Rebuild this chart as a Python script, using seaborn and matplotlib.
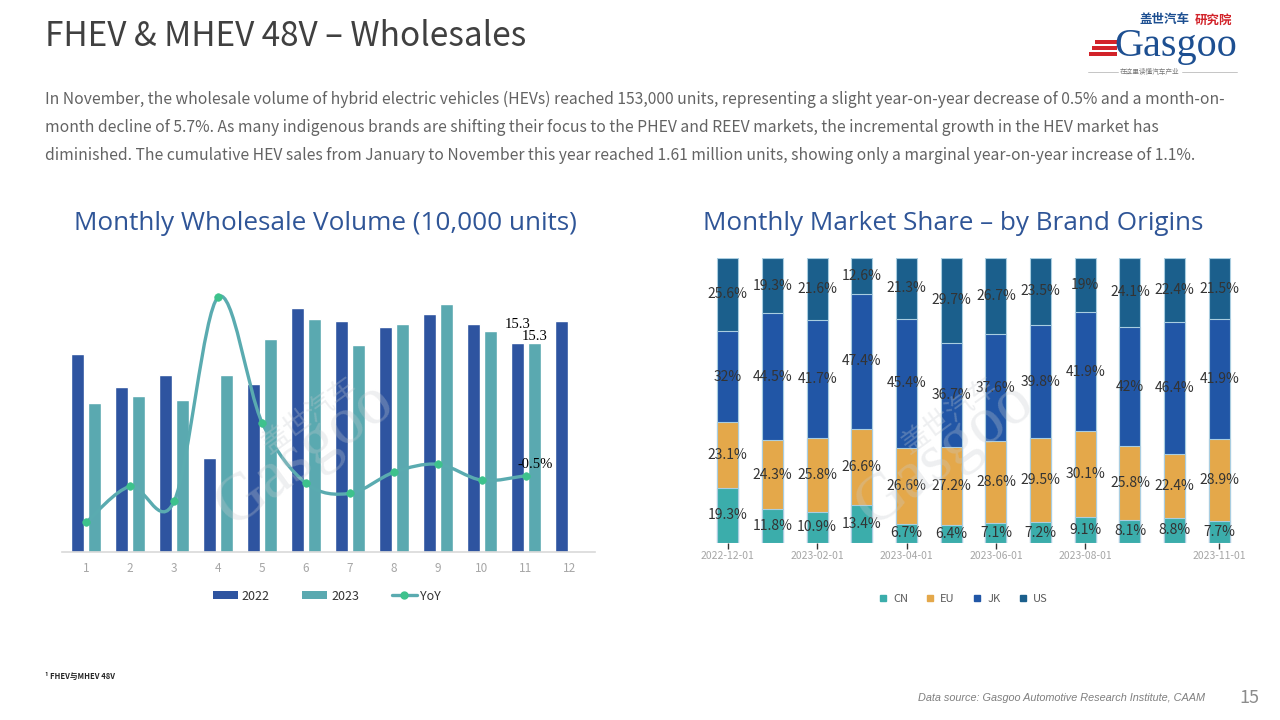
import numpy as np
import pandas as pd
import matplotlib
matplotlib.use("Agg")
import matplotlib.pyplot as plt
from matplotlib.path import Path
from matplotlib.patches import PathPatch, Patch, Rectangle
from matplotlib.lines import Line2D
import seaborn as sns

# ---------------- data ----------------
months = [str(i) for i in range(1, 13)]
vol_2022 = [14.5, 12.1, 13.0, 6.9, 12.3, 17.9, 16.9, 16.5, 17.4, 16.7, 15.3, 16.9]
vol_2023 = [10.9, 11.4, 11.1, 13.0, 15.6, 17.1, 15.2, 16.7, 18.2, 16.2, 15.3]
yoy_pct = [-23.9, -5.9, -13.4, 89.0, 26.1, -4.3, -9.4, 1.2, 5.2, -2.8, -0.5]

share_months = ["2022-12-01", "2023-01-01", "2023-02-01", "2023-03-01", "2023-04-01",
                "2023-05-01", "2023-06-01", "2023-07-01", "2023-08-01", "2023-09-01",
                "2023-10-01", "2023-11-01"]
share_cn = [19.3, 11.8, 10.9, 13.4, 6.7, 6.4, 7.1, 7.2, 9.1, 8.1, 8.8, 7.7]
share_eu = [23.1, 24.3, 25.8, 26.6, 26.6, 27.2, 28.6, 29.5, 30.1, 25.8, 22.4, 28.9]
share_jk = [32.0, 44.5, 41.7, 47.4, 45.4, 36.7, 37.6, 39.8, 41.9, 42.0, 46.4, 41.9]
share_us = [25.6, 19.3, 21.6, 12.6, 21.3, 29.7, 26.7, 23.5, 19.0, 24.1, 22.4, 21.5]
share_tick_idx = [0, 2, 4, 6, 8, 11]
origins = ["CN", "EU", "JK", "US"]

# ---------------- style ----------------
C22 = "#2e54a0"
C23 = "#5aa9b0"
CLINE = "#5aabb0"
CMARK = "#3dc28c"
ORIGIN_COLORS = {"CN": "#3badab", "EU": "#e4a84a", "JK": "#2156a6", "US": "#1b5f8c"}

sns.set_theme(style="white")
plt.rcParams["font.family"] = ["Noto Sans CJK SC", "DejaVu Sans"]

W, H = 1280, 720
fig = plt.figure(figsize=(12.8, 7.2), dpi=100)
fig.patch.set_facecolor("white")


def fx(px):
    return px / W


def fy(py):
    return 1 - py / H


# ---------------- left chart ----------------
ax = fig.add_axes([fx(62), fy(552), (595 - 62) / W, (552 - 279) / H])
df_vol = pd.DataFrame({
    "month": months + months[:len(vol_2023)],
    "volume": vol_2022 + vol_2023,
    "year": ["2022"] * len(vol_2022) + ["2023"] * len(vol_2023),
})
sns.barplot(data=df_vol, x="month", y="volume", hue="year", order=months,
            hue_order=["2022", "2023"], palette=[C22, C23], width=0.76, gap=0.21,
            errorbar=None, saturation=1, legend=False, ax=ax)
ax.set_ylim(0, 20)
ax.set_yticks([])
ax.set_xlabel("")
ax.set_ylabel("")
for s in ["left", "top", "right"]:
    ax.spines[s].set_visible(False)
ax.spines["bottom"].set_color("#d9d9d9")
ax.spines["bottom"].set_linewidth(1.2)
ax.tick_params(axis="x", length=0, pad=7, labelsize=8.5, labelcolor="#a6a6a6")

ax2 = ax.twinx()
xs = np.arange(len(yoy_pct))
pts = np.column_stack([xs, yoy_pct])
ext = np.vstack([pts[0], pts, pts[-1]])
verts = [pts[0]]
codes = [Path.MOVETO]
for i in range(len(pts) - 1):
    p0, p1, p2, p3 = ext[i], ext[i + 1], ext[i + 2], ext[i + 3]
    verts += [p1 + (p2 - p0) / 6, p2 - (p3 - p1) / 6, p2]
    codes += [Path.CURVE4] * 3
ax2.add_patch(PathPatch(Path(verts, codes), facecolor="none", edgecolor=CLINE, lw=2.4, zorder=4))
sns.scatterplot(x=xs, y=yoy_pct, ax=ax2, color=CMARK, s=30, edgecolor=CMARK, zorder=5, legend=False)
ax2.set_ylim(-38.8, 98.1)
ax2.set_yticks([])
for s in ax2.spines.values():
    s.set_visible(False)
ax.set_xlim(-0.55, 11.57)

lab_font = dict(family=["Liberation Serif", "DejaVu Serif"], fontsize=10.5, color="black")
ax.annotate(f"{vol_2022[10]:g}", xy=(10 - 0.19, vol_2022[10]), xytext=(0, 9),
            textcoords="offset points", ha="center", va="bottom", **lab_font)
ax.annotate(f"{vol_2023[10]:g}", xy=(10 + 0.19, vol_2023[10]), xytext=(0, 0),
            textcoords="offset points", ha="center", va="bottom", **lab_font)
ax2.annotate(f"{yoy_pct[10]:g}%", xy=(10, yoy_pct[10]), xytext=(7, 3),
             textcoords="offset points", ha="center", va="bottom", **lab_font)

leg_handles = [Patch(facecolor=C22, edgecolor="none", label="2022"),
               Patch(facecolor=C23, edgecolor="none", label="2023"),
               Line2D([0], [0], color=CLINE, lw=2.4, marker="o", markersize=5,
                      markerfacecolor=CMARK, markeredgecolor=CMARK, label="YoY")]
fig.legend(handles=leg_handles, loc="center", bbox_to_anchor=(fx(327), fy(596)), ncol=3,
           frameon=False, fontsize=9, handlelength=2.0, handleheight=0.55,
           columnspacing=2.6, handletextpad=0.3, labelcolor="#333333")

# ---------------- right chart ----------------
axr = fig.add_axes([fx(705), fy(543), (1243 - 705) / W, (543 - 258) / H])
series = {"CN": share_cn, "EU": share_eu, "JK": share_jk, "US": share_us}
cum = np.cumsum(np.array([series[o] for o in origins]), axis=0)
for k in range(len(origins) - 1, -1, -1):
    sns.barplot(x=share_months, y=cum[k], order=share_months, color=ORIGIN_COLORS[origins[k]],
                width=0.47, saturation=1, edgecolor="#a9cde0", linewidth=0.8, ax=axr)
for i in range(len(share_months)):
    bottom = 0.0
    for o in origins:
        v = series[o][i]
        axr.text(i, bottom + v / 2, f"{v:g}%", ha="center", va="center",
                 fontsize=10, color="#333333", zorder=6)
        bottom += v
axr.set_ylim(0, 100)
axr.set_xlim(-0.51, 11.53)
axr.set_yticks([])
axr.set_xticks(share_tick_idx)
axr.set_xticklabels([share_months[i] for i in share_tick_idx])
axr.set_xlabel("")
axr.set_ylabel("")
for s in axr.spines.values():
    s.set_visible(False)
axr.tick_params(axis="x", length=4, width=1, color="#333333", direction="out", pad=2,
                labelsize=7.5, labelcolor="#a6a6a6", bottom=True)

r_handles = [Line2D([0], [0], lw=0, marker="s", markersize=5, markerfacecolor=ORIGIN_COLORS[o],
                    markeredgecolor=ORIGIN_COLORS[o], label=o) for o in origins]
fig.legend(handles=r_handles, loc="center", bbox_to_anchor=(fx(963), fy(599)), ncol=4,
           frameon=False, fontsize=8, handlelength=0.8, columnspacing=1.6,
           handletextpad=0.5, labelcolor="#595959")

# ---------------- watermarks ----------------
for dx in (0, 640):
    fig.text(fx(305 + dx), fy(455), "Gasgoo", rotation=36, fontsize=48, color="#c8ccd0",
             alpha=0.30, ha="center", va="center", family=["Liberation Serif", "DejaVu Serif"], zorder=10)
    fig.text(fx(310 + dx), fy(415), "盖世汽车", rotation=36, fontsize=20, color="#c8ccd0",
             alpha=0.30, ha="center", va="center", zorder=10)

# ---------------- texts ----------------
fig.text(fx(45), fy(36), "FHEV & MHEV 48V – Wholesales", fontsize=24, color="#404040",
         va="center", ha="left", weight="light")
para = [
    "In November, the wholesale volume of hybrid electric vehicles (HEVs) reached 153,000 units, representing a slight year-on-year decrease of 0.5% and a month-on-",
    "month decline of 5.7%. As many indigenous brands are shifting their focus to the PHEV and REEV markets, the incremental growth in the HEV market has",
    "diminished. The cumulative HEV sales from January to November this year reached 1.61 million units, showing only a marginal year-on-year increase of 1.1%.",
]
for line, yy in zip(para, [99, 127, 156]):
    fig.text(fx(45), fy(yy), line, fontsize=11.3, color="#636363", va="center", ha="left",
             weight="light")

sub_font = dict(family=["Open Sans", "DejaVu Sans"], fontsize=18.8, color="#2f5597")
fig.text(fx(325), fy(223), "Monthly Wholesale Volume (10,000 units)", ha="center", va="center", **sub_font)
fig.text(fx(953), fy(223), "Monthly Market Share – by Brand Origins", ha="center", va="center", **sub_font)

fig.text(fx(45), fy(676), "¹ FHEV与MHEV 48V", fontsize=5.5, weight="bold", color="#222222",
         va="center", ha="left")
fig.text(fx(1205), fy(698), "Data source: Gasgoo Automotive Research Institute, CAAM",
         family=["Liberation Sans", "DejaVu Sans"], style="italic", fontsize=7.8,
         color="#7f7f7f", ha="right", va="center")
fig.text(fx(1249), fy(698), "15", fontsize=13, color="#8c8c8c", ha="center", va="center",
         weight="light")

# ---------------- logo ----------------
for k, yy in enumerate([40, 46, 52]):
    fig.patches.append(Rectangle((fx(1089 + 3 * (2 - k)), fy(yy + 3.5)), (28 - 3 * (2 - k)) / W, 3.5 / H,
                                 transform=fig.transFigure, facecolor="#d2232a", edgecolor="none"))
fig.text(fx(1237), fy(56), "Gasgoo", family=["Liberation Serif", "DejaVu Serif"], fontsize=29,
         color="#1d4f91", ha="right", va="baseline")
fig.text(fx(1139), fy(20), "盖世汽车", fontsize=9, weight="bold", color="#1d4f91",
         ha="left", va="center")
fig.text(fx(1195), fy(20), "研究院", fontsize=9, weight="bold", color="#d2232a",
         ha="left", va="center")
fig.text(fx(1150), fy(72), "在这里读懂汽车产业", fontsize=4.8, color="#777777", ha="center", va="center")
fig.add_artist(Line2D([fx(1088), fx(1118)], [fy(72), fy(72)], color="#bbbbbb", lw=0.6))
fig.add_artist(Line2D([fx(1182), fx(1237)], [fy(72), fy(72)], color="#bbbbbb", lw=0.6))

fig.savefig("out.png", dpi=100, facecolor="white")
